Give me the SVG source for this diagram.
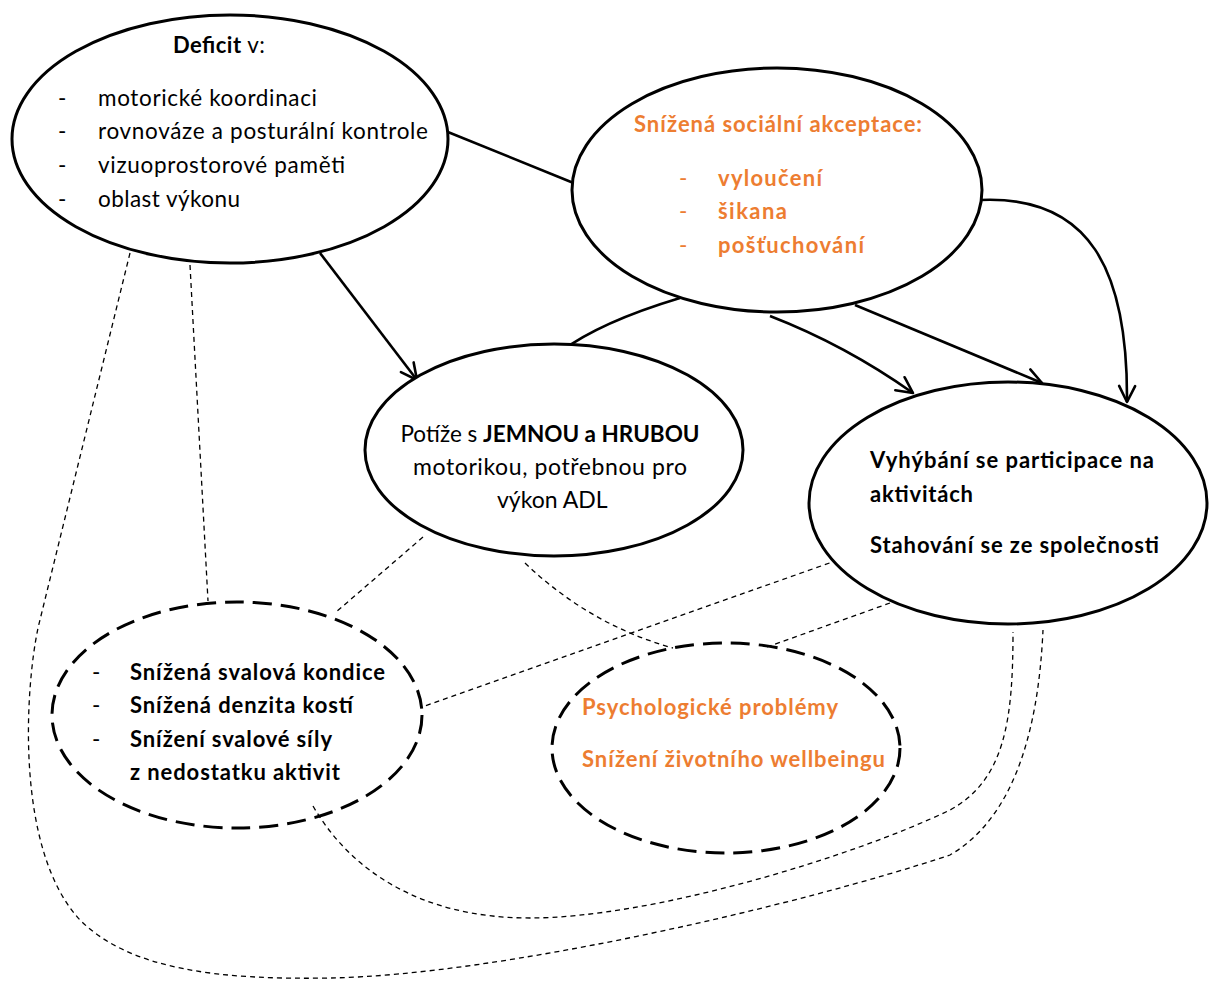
<svg xmlns="http://www.w3.org/2000/svg" width="1209" height="981" viewBox="0 0 1209 981">
  <style>
    text { font-family: Lato, "Open Sans", "Liberation Sans", sans-serif; font-size: 22.5px; fill: #000; }
    .b { font-weight: bold; font-size: 22px; }
    .big { font-size: 23px; }
    .or { fill: #ED7D31; }
    .node { fill: #fff; stroke: #000; stroke-width: 3; }
    .dnode { fill: none; stroke: #000; stroke-width: 3; stroke-dasharray: 19 9; }
    .link { fill: none; stroke: #000; stroke-width: 2.6; }
    .weak { fill: none; stroke: #000; stroke-width: 1.3; stroke-dasharray: 5 4; }
  </style>
  <defs>
    <marker id="arrow" markerUnits="userSpaceOnUse" viewBox="-20 -12 24 24" markerWidth="24" markerHeight="24" refX="0" refY="0" orient="auto" overflow="visible">
      <path d="M-16,-8 L0,0 L-16,8" fill="none" stroke="#000" stroke-width="2.6" stroke-linejoin="round" stroke-linecap="round"/>
    </marker>
  </defs>
  <rect width="1209" height="981" fill="#fff"/>

  <!-- connectors -->
  <g id="connectors">
    <!-- solid relations -->
    <path class="link" d="M438,128 L576,184"/>
    <path class="link" d="M320,253 L417,380" marker-end="url(#arrow)"/>
    <path class="link" d="M680,298 Q600,322 560,352"/>
    <path class="link" d="M770,316 Q845,345 913,393" marker-end="url(#arrow)"/>
    <path class="link" d="M855,305 L1042,383" marker-end="url(#arrow)"/>
    <path class="link" d="M980,200 C1090,195 1128,270 1127,402" marker-end="url(#arrow)"/>
    <!-- weak (dashed) relations -->
    <path class="weak" d="M130,253 L38,628 C25,690 15,850 80,920 C130,970 220,980 330,978 C500,975 800,905 950,855 C1010,820 1038,740 1043,630"/>
    <path class="weak" d="M190,265 L208,601"/>
    <path class="weak" d="M423,537 L335,613"/>
    <path class="weak" d="M525,563 Q590,625 673,648"/>
    <path class="weak" d="M838,560 L422,707"/>
    <path class="weak" d="M890,603 L767,647"/>
    <path class="weak" d="M313,806 C350,870 420,918 530,918 C650,918 850,858 950,810 C1005,780 1013,720 1013,632"/>
  </g>

  <!-- deficits -->
  <g id="deficit">
    <ellipse class="node" cx="230" cy="139" rx="218" ry="124"/>
    <text x="173" y="53" textLength="92"><tspan class="b">Deficit</tspan> v:</text>
    <text x="58" y="106">-</text>
    <text x="98" y="106" textLength="219">motorické koordinaci</text>
    <text x="58" y="139">-</text>
    <text x="98" y="139" textLength="330">rovnováze a posturální kontrole</text>
    <text x="58" y="173">-</text>
    <text x="98" y="173" textLength="247">vizuoprostorové paměti</text>
    <text x="58" y="207">-</text>
    <text x="98" y="207" textLength="142">oblast výkonu</text>
  </g>

  <!-- social acceptance -->
  <g id="social">
    <ellipse class="node" cx="777" cy="190" rx="205" ry="122"/>
    <text class="b or" x="634" y="132" textLength="288">Snížená sociální akceptace:</text>
    <text class="or" x="679" y="186">-</text>
    <text class="b or" x="718" y="186" textLength="104">vyloučení</text>
    <text class="or" x="679" y="219">-</text>
    <text class="b or" x="718" y="219" textLength="69">šikana</text>
    <text class="or" x="679" y="253">-</text>
    <text class="b or" x="718" y="253" textLength="146">pošťuchování</text>
  </g>

  <!-- motor skills -->
  <g id="motor">
    <ellipse class="node" cx="554" cy="450" rx="189" ry="106"/>
    <text x="550" y="442" text-anchor="middle" style="font-size:22.5px">Potíže s <tspan style="font-weight:bold">JEMNOU a HRUBOU</tspan></text>
    <text class="big" x="413" y="475" textLength="274">motorikou, potřebnou pro</text>
    <text class="big" x="497" y="508">výkon ADL</text>
  </g>

  <!-- avoidance -->
  <g id="avoidance">
    <ellipse class="node" cx="1008" cy="503" rx="199" ry="121"/>
    <text class="b" x="870" y="468" textLength="284">Vyhýbání se participace na</text>
    <text class="b" x="870" y="502" textLength="103">aktivitách</text>
    <text class="b" x="870" y="553" textLength="289">Stahování se ze společnosti</text>
  </g>

  <!-- physical consequences -->
  <g id="physical">
    <ellipse class="dnode" cx="237" cy="715" rx="185" ry="113"/>
    <text x="92" y="680">-</text>
    <text class="b" x="130" y="680" textLength="255">Snížená svalová kondice</text>
    <text x="92" y="713">-</text>
    <text class="b" x="130" y="713" textLength="223">Snížená denzita kostí</text>
    <text x="92" y="747">-</text>
    <text class="b" x="130" y="747" textLength="202">Snížení svalové síly</text>
    <text class="b" x="130" y="780" textLength="210">z nedostatku aktivit</text>
  </g>

  <!-- psychological consequences -->
  <g id="psychological">
    <ellipse class="dnode" cx="726" cy="748" rx="174" ry="105"/>
    <text class="b or" x="582" y="715" textLength="256">Psychologické problémy</text>
    <text class="b or" x="582" y="767" textLength="303">Snížení životního wellbeingu</text>
  </g>
</svg>
